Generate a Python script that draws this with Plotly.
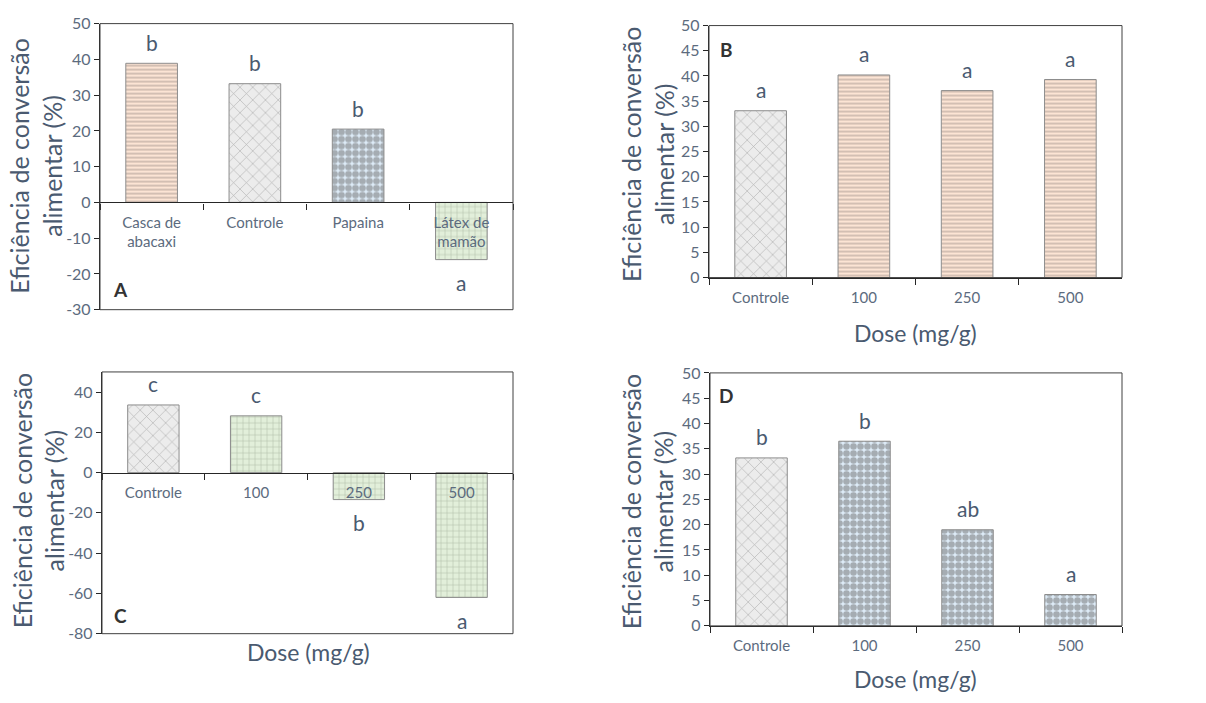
import plotly.graph_objects as go

# ---------------- data ----------------
cat_a = ["Casca de<br>abacaxi", "Controle", "Papaina", "Látex de<br>mamão"]
val_a = [38.9, 33.2, 20.5, -16.0]
let_a = ["b", "b", "b", "a"]

cat_dose = ["Controle", "100", "250", "500"]
val_b = [33.1, 40.2, 37.1, 39.3]
let_b = ["a", "a", "a", "a"]

val_c = [33.6, 28.2, -13.4, -62.0]
let_c = ["c", "c", "b", "a"]

val_d = [33.2, 36.5, 19.0, 6.2]
let_d = ["b", "b", "ab", "a"]

ticks_a = [-30, -20, -10, 0, 10, 20, 30, 40, 50]
ticks_bd = [0, 5, 10, 15, 20, 25, 30, 35, 40, 45, 50]
ticks_c = [-80, -60, -40, -20, 0, 20, 40]

ytitle = "Eficiência de conversão<br>alimentar (%)"
xtitle = "Dose (mg/g)"

# ---------------- styles ----------------
W, H = 1206, 703
FONT = "Lato"
TICK_COL = "#5c6b7e"
TITLE_COL = "#4a5a70"
AXIS_COL = "#262626"

STYLE = {
    "stripe": dict(bg="#fce4d4", fg="#857a74", shape="-", size=4, sol=0.35),
    "brick_diag": dict(bg="#ececec", fg="#7a7a7a", shape="x", size=9, sol=0.14),
    "dots": dict(bg="#ddebf7", fg="#6e6e6e", shape=".", size=7, sol=0.7),
    "brick_h": dict(bg="#e2efda", fg="#8a9680", shape="+", size=6, sol=0.2),
}
sty_a = ["stripe", "brick_diag", "dots", "brick_h"]
sty_b = ["brick_diag", "stripe", "stripe", "stripe"]
sty_c = ["brick_diag", "brick_h", "brick_h", "brick_h"]
sty_d = ["brick_diag", "dots", "dots", "dots"]


def px_x(p):
    return p / W


def px_y(p):
    return 1 - p / H


def tick_text(vals):
    # plain hyphen for negative numbers
    return ["%d" % v for v in vals]


panels = [
    # name, categories, values, letters, styles, x-domain px, y-domain px (top,bottom), y range, ticks, zero-axis
    ("A", cat_a, val_a, let_a, sty_a, (100, 513), (14, 308), (-30, 50), ticks_a, True),
    ("B", cat_dose, val_b, let_b, sty_b, (709, 1122), (16, 275), (0, 50), ticks_bd, False),
    ("C", cat_dose, val_c, let_c, sty_c, (102, 513), (372, 641), (-80, 50), ticks_c, True),
    ("D", cat_dose, val_d, let_d, sty_d, (710, 1122), (373, 633), (0, 50), ticks_bd, False),
]

fig = go.Figure()
annotations = []
shapes = []

for i, (name, cats, vals, lets, stys, xd, yd, yr, tv, zero_axis) in enumerate(panels):
    k = "" if i == 0 else str(i + 1)
    xa, ya = "x" + k, "y" + k
    for c, v, s in zip(cats, vals, stys):
        st = STYLE[s]
        fig.add_trace(go.Bar(
            x=[c], y=[v], xaxis=xa, yaxis=ya, width=0.5, showlegend=False,
            marker=dict(
                color=st["bg"],
                line=dict(color="#8c8c8c", width=1),
                pattern=dict(shape=st["shape"], fgcolor=st["fg"], fillmode="overlay",
                             size=st["size"], solidity=st["sol"]),
            ),
        ))
    for j, (v, l) in enumerate(zip(vals, lets)):
        annotations.append(dict(
            x=j, y=v, xref=xa, yref=ya, text=l, showarrow=False,
            yshift=21 if v >= 0 else -23, yanchor="middle",
            font=dict(family=FONT, size=21, color=TITLE_COL),
        ))

    y0p, y1p = px_y(yd[1]), px_y(yd[0])
    xdom = [px_x(xd[0]), px_x(xd[1])]
    xaxis = dict(
        domain=xdom, type="category", categoryorder="array", categoryarray=cats,
        range=[-0.5, len(cats) - 0.5], showgrid=False, zeroline=False,
        showline=True, linecolor=AXIS_COL, linewidth=1.3,
        ticks="outside", tickson="boundaries", ticklen=6, tickcolor=AXIS_COL,
        tickfont=dict(family=FONT, size=15, color=TICK_COL), ticklabelstandoff=6,
        fixedrange=True,
    )
    if zero_axis:
        # horizontal axis sits on the zero level of the value scale
        pos = y0p + (0 - yr[0]) / (yr[1] - yr[0]) * (y1p - y0p)
        xaxis.update(anchor="free", position=pos)
    else:
        xaxis.update(anchor=ya)
    yaxis = dict(
        domain=[y0p, y1p], anchor=xa, range=list(yr),
        tickmode="array", tickvals=tv, ticktext=tick_text(tv),
        showgrid=False, zeroline=False, showline=True, linecolor=AXIS_COL, linewidth=1.3,
        ticks="outside", ticklen=5, tickcolor=AXIS_COL,
        tickfont=dict(family=FONT, size=16, color=TICK_COL), fixedrange=True,
    )
    fig.update_layout({"xaxis" + k: xaxis, "yaxis" + k: yaxis})

    # plot-area frame
    shapes.append(dict(type="rect", xref=xa + " domain", yref=ya + " domain",
                       x0=0, x1=1, y0=0, y1=1, line=dict(color="#404040", width=1),
                       fillcolor="rgba(0,0,0,0)", layer="above"))

# y-axis titles
for cx, cy in [(36, 161), (647, 148), (38, 505), (647, 505)]:
    annotations.append(dict(
        x=px_x(cx), y=px_y(cy), xref="paper", yref="paper", text=ytitle,
        textangle=-90, showarrow=False, xanchor="center", yanchor="middle",
        font=dict(family=FONT, size=25, color=TITLE_COL),
    ))

# x-axis titles
for cx, cy in [(915, 332), (308, 660), (915, 688)]:
    annotations.append(dict(
        x=px_x(cx), y=px_y(cy), xref="paper", yref="paper", text=xtitle,
        showarrow=False, xanchor="center", yanchor="middle",
        font=dict(family=FONT, size=23, color=TITLE_COL),
    ))

# panel letters
for t, cx, cy in [("A", 120, 287), ("B", 726, 41), ("C", 120, 622), ("D", 726, 396)]:
    annotations.append(dict(
        x=px_x(cx), y=px_y(cy), xref="paper", yref="paper", text="<b>%s</b>" % t,
        showarrow=False, xanchor="center", yanchor="middle",
        font=dict(family=FONT, size=19, color="#333333"),
    ))

fig.update_layout(
    width=W, height=H, margin=dict(l=0, r=0, t=0, b=0),
    paper_bgcolor="white", plot_bgcolor="white",
    annotations=annotations, shapes=shapes, bargap=0.5,
    font=dict(family=FONT),
)

fig.write_html("out.html")
